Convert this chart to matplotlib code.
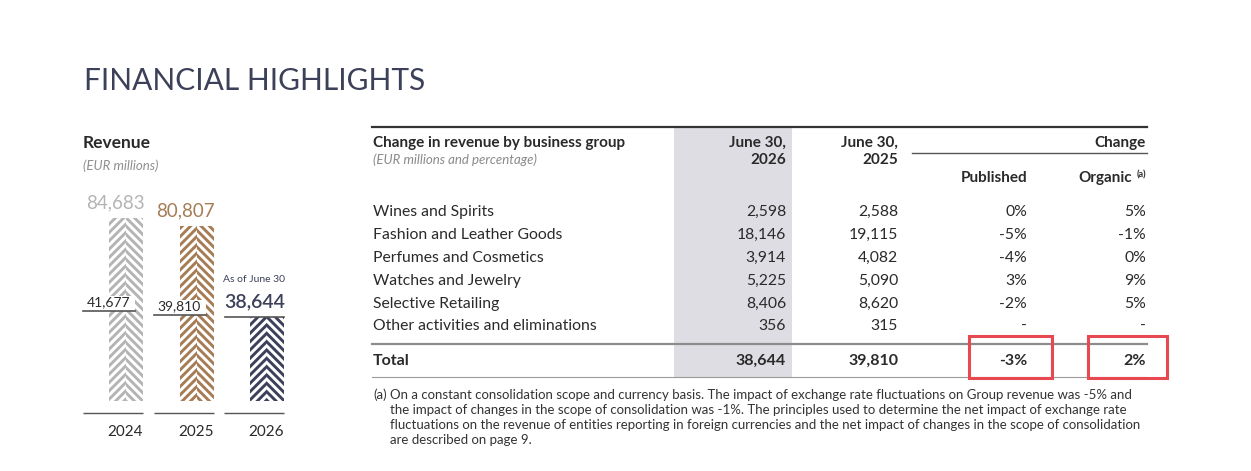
import matplotlib
matplotlib.use("Agg")
import matplotlib.pyplot as plt
from matplotlib.patches import Rectangle

plt.rcParams['font.family'] = ['Lato', 'DejaVu Sans']
plt.rcParams['hatch.linewidth'] = 2.1

# ---- data ----
years = ['2024', '2025', '2026']
full_year = [84683, 80807, 38644]
half_year = [41677, 39810, 38644]
bar_colors = ['#b4b4b4', '#a67c55', '#3d405a']

groups = ['Wines and Spirits', 'Fashion and Leather Goods', 'Perfumes and Cosmetics',
          'Watches and Jewelry', 'Selective Retailing', 'Other activities and eliminations']
rev_2026 = ['2,598', '18,146', '3,914', '5,225', '8,406', '356']
rev_2025 = ['2,588', '19,115', '4,082', '5,090', '8,620', '315']
published = ['0%', '-5%', '-4%', '3%', '-2%', '-']
organic = ['5%', '-1%', '0%', '9%', '5%', '-']
total = ['38,644', '39,810', '-3%', '2%']

footnote = [
    "On a constant consolidation scope and currency basis. The impact of exchange rate fluctuations on Group revenue was -5% and",
    "the impact of changes in the scope of consolidation was -1%. The principles used to determine the net impact of exchange rate",
    "fluctuations on the revenue of entities reporting in foreign currencies and the net impact of changes in the scope of consolidation",
    "are described on page 9.",
]

W, H = 1251, 471
fig = plt.figure(figsize=(W / 100, H / 100), dpi=100)

# page overlay in pixel coordinates
ax0 = fig.add_axes([0, 0, 1, 1])
ax0.set_xlim(0, W)
ax0.set_ylim(H, 0)
ax0.axis('off')

navy = '#3c4059'
ink = '#2a2a2a'

ax0.text(84, 81, 'FINANCIAL HIGHLIGHTS', fontsize=21.5,
         color=navy, va='center', ha='left')
ax0.text(83, 143, 'Revenue', fontsize=12.5, fontweight='bold', color=ink, va='center')
ax0.text(83, 166, '(EUR millions)', fontsize=9.5, style='italic', color='#8f8f8f',
         va='center')

# ---- bar chart ----
px_per_unit = 183 / 84683
ylo, yhi = -8000, 100000
base_px = 401
ax_h = (yhi - ylo) * px_per_unit
ax_bottom = H - (base_px - ylo * px_per_unit)
unit = 70.5
x0_px, x1_px = 70, 300
ax = fig.add_axes([x0_px / W, ax_bottom / H, (x1_px - x0_px) / W, ax_h / H])
ax.set_xlim(-(126 - x0_px) / unit, (x1_px - 126) / unit)
ax.set_ylim(ylo, yhi)
ax.axis('off')
ax.patch.set_alpha(0)

bw = 34 / unit
xs = list(range(len(years)))
for i, (v, c) in enumerate(zip(full_year, bar_colors)):
    ax.bar(xs[i] - bw / 4, v, width=bw / 2, color='white', edgecolor=c,
           hatch='////', linewidth=0)
    ax.bar(xs[i] + bw / 4, v, width=bw / 2, color='white', edgecolor=c,
           hatch='\\\\\\\\', linewidth=0)
    # baseline segment + year label
    ax.plot([xs[i] + bw / 2 - 60 / unit, xs[i] + bw / 2], [-5550, -5550],
            color='#555555', lw=1, solid_capstyle='butt')
    ax.text(xs[i] + bw / 2, -14300, years[i], ha='right', va='center',
            fontsize=11, color=ink, clip_on=False)

# full-year labels (2024, 2025)
for i in range(2):
    ax.annotate(f'{full_year[i]:,}', (xs[i] + bw / 2, full_year[i]), xytext=(1, 5),
                textcoords='offset points', ha='right', va='bottom',
                fontsize=13.5, color=bar_colors[i])

# half-year markers with white boxed labels
for i in range(2):
    left = xs[i] - bw / 2 - 26 / unit
    right = xs[i] + bw / 2 - 8 / unit
    ax.add_patch(Rectangle((left, half_year[i]), right - left, 15 / px_per_unit,
                           facecolor='white', edgecolor='none', zorder=3))
    ax.plot([left, right], [half_year[i]] * 2, color='#555555', lw=1.2, zorder=4)
    ax.annotate(f'{half_year[i]:,}', ((left + right) / 2, half_year[i]), xytext=(0, 2),
                textcoords='offset points', ha='center', va='bottom',
                fontsize=10, color=ink, zorder=5)

# 2026 partial-year marker
ax.plot([xs[2] + bw / 2 - 59 / unit, xs[2] + bw / 2], [half_year[2]] * 2,
        color='#555555', lw=1.2, zorder=4)
ax.annotate(f'{half_year[2]:,}', (xs[2] + bw / 2, half_year[2]), xytext=(1, 5),
            textcoords='offset points', ha='right', va='bottom',
            fontsize=14, color=navy, fontweight='semibold')
ax.annotate('As of June 30', (xs[2] + bw / 2, half_year[2]), xytext=(1, 24),
            textcoords='offset points', ha='right', va='bottom',
            fontsize=7.5, color=navy)

# ---- table ----
L, R = 372, 1147
c1, c2, c3, c4 = 786, 898, 1027, 1146
ax0.add_patch(Rectangle((674, 128), 118, 250, facecolor='#dedde3', edgecolor='none'))
ax0.plot([L, R], [127, 127], color='#333333', lw=1.6)
ax0.plot([912, R], [153, 153], color='#555555', lw=1)

hdr = dict(fontsize=11, fontweight='bold', color=ink, va='center')
ax0.text(373, 143, 'Change in revenue by business group', ha='left', **hdr)
ax0.text(373, 160, '(EUR millions and percentage)', ha='left', va='center',
         fontsize=9.5, style='italic', color='#8a8a8a')
ax0.text(c1, 143, 'June 30,', ha='right', **hdr)
ax0.text(c1, 160, '2026', ha='right', **hdr)
ax0.text(c2, 143, 'June 30,', ha='right', **hdr)
ax0.text(c2, 160, '2025', ha='right', **hdr)
ax0.text(c4, 143, 'Change', ha='right', **hdr)
ax0.text(c3, 178, 'Published', ha='right', **hdr)
ax0.text(c4 - 14, 178, 'Organic', ha='right', **hdr)
ax0.text(c4, 175, '(a)', ha='right', va='center', fontsize=6.5, fontweight='bold', color=ink)

body = dict(fontsize=11.3, color=ink, va='center')
row_y = [212, 235, 258, 281, 304, 326]
for y, g, a, b, p, o in zip(row_y, groups, rev_2026, rev_2025, published, organic):
    ax0.text(373, y, g, ha='left', **body)
    ax0.text(c1, y, a, ha='right', **body)
    ax0.text(c2, y, b, ha='right', **body)
    ax0.text(c3, y, p, ha='right', **body)
    ax0.text(c4, y, o, ha='right', **body)

ax0.plot([L, R], [344, 344], color='#8c8c8c', lw=1.6)
tot = dict(fontsize=11.5, fontweight='bold', color=ink, va='center')
ax0.text(373, 361, 'Total', ha='left', **tot)
for cx, t in zip([c1, c2, c3, c4], total):
    ax0.text(cx, 361, t, ha='right', **tot)
ax0.plot([L, R], [377, 377], color='#9a9a9a', lw=0.8)

# highlight boxes
for bx0, bx1 in [(969, 1052), (1088, 1167)]:
    ax0.add_patch(Rectangle((bx0, 336), bx1 - bx0, 42, facecolor='none',
                            edgecolor='#e8484f', lw=2.2, zorder=6))

# footnote
fn = dict(fontsize=9.5, color='#333333', va='center', ha='left')
ax0.text(373, 395, '(a)', **fn)
for k, line in enumerate(footnote):
    ax0.text(390, 395 + k * 15, line, **fn)

fig.savefig('out.png', dpi=100)
